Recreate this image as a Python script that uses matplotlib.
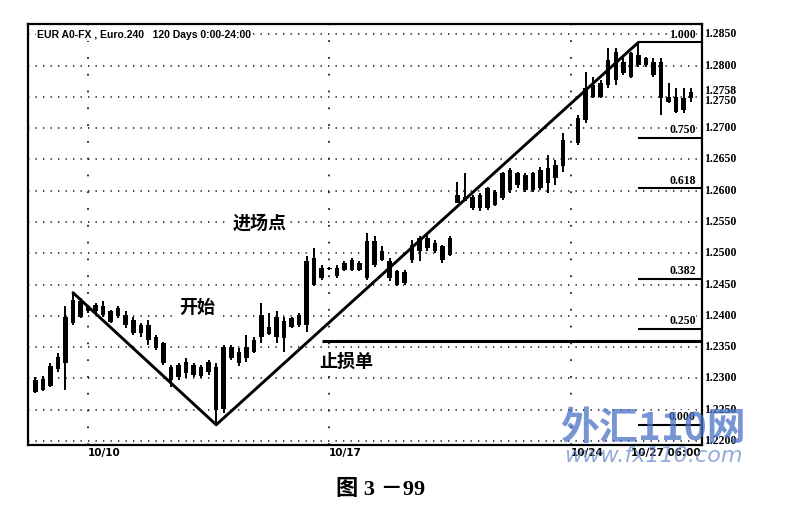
import numpy as np
import matplotlib.pyplot as plt
import matplotlib.transforms as mtransforms

# 4時間足データ (None = 欠けたバー)
opens = [1.2279, 1.2282, 1.2288, 1.2315, 1.2325, 1.2388, 1.2423, 1.2415, 1.2407, 1.2416,
         1.2407, 1.2400, 1.2401, 1.2393, 1.2385, 1.2385, 1.2366, 1.2357, 1.2319, 1.2303,
         1.2308, 1.2322, 1.2304, 1.2311, 1.2319, 1.2252, 1.2351, 1.2324, 1.2332, 1.2343,
         1.2367, 1.2383, 1.2367, 1.2392, 1.2383, 1.2385, 1.2385, 1.2492, 1.2460, 1.2475,
         1.2463, 1.2473, 1.2473, 1.2484, 1.2460, 1.2519, 1.2489, 1.2487, 1.2471, 1.2452,
         1.2489, 1.2503, 1.2524, 1.2503, 1.2511, 1.2497, 1.2580, 1.2590, 1.2590, 1.2572,
         1.2572, 1.2598, 1.2588, 1.2601, 1.2628, 1.2601, 1.2628, 1.2604, 1.2612, 1.2620,
         1.2639, None, 1.2676, 1.2713, 1.2769, 1.2750, 1.2769, 1.2777, 1.2806, 1.2782,
         1.2817, 1.2812, 1.2806, 1.2806, 1.2750, 1.2750, 1.2729, 1.2748]
highs = [1.2303, 1.2304, 1.2325, 1.2341, 1.2415, 1.2437, 1.2428, 1.2417, 1.2420, 1.2423,
         1.2409, 1.2415, 1.2407, 1.2399, 1.2388, 1.2393, 1.2369, 1.2359, 1.2322, 1.2324,
         1.2332, 1.2324, 1.2322, 1.2330, 1.2324, 1.2353, 1.2353, 1.2348, 1.2369, 1.2367,
         1.2420, 1.2404, 1.2407, 1.2399, 1.2399, 1.2404, 1.2496, 1.2508, 1.2481, 1.2478,
         1.2481, 1.2487, 1.2492, 1.2487, 1.2532, 1.2527, 1.2511, 1.2492, 1.2473, 1.2473,
         1.2521, 1.2527, 1.2529, 1.2521, 1.2513, 1.2527, 1.2614, 1.2628, 1.2593, 1.2596,
         1.2606, 1.2601, 1.2630, 1.2636, 1.2630, 1.2628, 1.2630, 1.2638, 1.2657, 1.2649,
         1.2692, None, 1.2721, 1.2790, 1.2782, 1.2777, 1.2828, 1.2828, 1.2812, 1.2822,
         1.2837, 1.2814, 1.2812, 1.2812, 1.2772, 1.2764, 1.2764, 1.2764]
lows = [1.2277, 1.2280, 1.2286, 1.2311, 1.2282, 1.2385, 1.2396, 1.2404, 1.2404, 1.2399,
        1.2388, 1.2396, 1.2380, 1.2369, 1.2367, 1.2353, 1.2346, 1.2322, 1.2287, 1.2298,
        1.2300, 1.2303, 1.2300, 1.2306, 1.2226, 1.2245, 1.2330, 1.2320, 1.2327, 1.2340,
        1.2356, 1.2369, 1.2356, 1.2343, 1.2380, 1.2383, 1.2375, 1.2447, 1.2457, 1.2473,
        1.2460, 1.2471, 1.2471, 1.2471, 1.2457, 1.2478, 1.2487, 1.2455, 1.2447, 1.2449,
        1.2484, 1.2487, 1.2503, 1.2500, 1.2484, 1.2495, 1.2580, 1.2583, 1.2569, 1.2567,
        1.2569, 1.2575, 1.2585, 1.2596, 1.2604, 1.2598, 1.2598, 1.2601, 1.2596, 1.2609,
        1.2630, None, 1.2673, 1.2708, 1.2748, 1.2748, 1.2764, 1.2769, 1.2785, 1.2780,
        1.2798, 1.2798, 1.2782, 1.2721, 1.2740, 1.2724, 1.2724, 1.2742]
closes = [1.2298, 1.2299, 1.2320, 1.2334, 1.2399, 1.2425, 1.2399, 1.2407, 1.2417, 1.2401,
          1.2391, 1.2412, 1.2385, 1.2373, 1.2373, 1.2361, 1.2349, 1.2325, 1.2298, 1.2322,
          1.2327, 1.2306, 1.2318, 1.2327, 1.2250, 1.2351, 1.2332, 1.2343, 1.2351, 1.2361,
          1.2401, 1.2371, 1.2399, 1.2365, 1.2396, 1.2401, 1.2488, 1.2449, 1.2476, 1.2477,
          1.2476, 1.2484, 1.2489, 1.2473, 1.2519, 1.2481, 1.2503, 1.2460, 1.2449, 1.2470,
          1.2513, 1.2524, 1.2508, 1.2516, 1.2489, 1.2524, 1.2593, 1.2583, 1.2572, 1.2593,
          1.2604, 1.2577, 1.2628, 1.2633, 1.2609, 1.2625, 1.2601, 1.2633, 1.2636, 1.2641,
          1.2681, None, 1.2716, 1.2764, 1.2750, 1.2772, 1.2809, 1.2822, 1.2788, 1.2820,
          1.2801, 1.2801, 1.2785, 1.2748, 1.2742, 1.2726, 1.2748, 1.2758]

# 日付グリッド
date_idx = [7, 39, 71]
date_labels = ['10/10', '10/17', '10/24']

# 価格目盛
price_ticks = [1.2850, 1.2800, 1.2750, 1.2700, 1.2650, 1.2600, 1.2550, 1.2500,
               1.2450, 1.2400, 1.2350, 1.2300, 1.2250, 1.2200]
last_price = 1.2758

# スイング (開始 -> 安値 -> 高値)
swing_idx = [5, 24, 80]
swing_price = [1.2437, 1.2226, 1.2837]

# フィボナッチ
fib_ratios = [1.000, 0.750, 0.618, 0.382, 0.250, 0.000]
fib_labels = ['1.000', '0.750', '0.618', '0.382', '0.250', '0.000']

# 止損単
stop_price = 1.2360
stop_start = 38

fig = plt.figure(figsize=(8.06, 5.19), dpi=100)
ax = fig.add_axes([0.0347, 0.1426, 0.8359, 0.8112])
ax.set_xlim(-0.97, 88.4)
ax.set_ylim(1.21937, 1.28664)
ax.set_xticks([])
ax.set_yticks([])
for s in ax.spines.values():
    s.set_linewidth(1.6)

# グリッド
for p in price_ticks:
    ax.axhline(p, color='#222222', lw=1.2, ls=(0, (0.8, 3.7)), zorder=1)
for d in date_idx:
    ax.axvline(d, color='#222222', lw=1.3, ls=(0, (1, 8.3)), zorder=1)

# ローソク足
for i, (o, h, l, c) in enumerate(zip(opens, highs, lows, closes)):
    if o is None:
        continue
    ax.vlines(i, l, h, color='black', lw=1.4, zorder=3)
    ax.bar(i, max(abs(c - o), 0.0002), bottom=min(o, c), width=0.6,
           color='black', zorder=3)

# トレンドライン
ax.plot(swing_idx, swing_price, color='black', lw=2.1, zorder=4,
        solid_capstyle='round')

# フィボナッチライン
lo, hi = swing_price[1], swing_price[2]
for r, lab in zip(fib_ratios, fib_labels):
    lvl = lo + r * (hi - lo)
    ax.hlines(lvl, swing_idx[2], 88.4, color='black', lw=1.5, zorder=4)
    ax.text(87.6, lvl + 0.0003, lab, ha='right', va='bottom', fontsize=8.5,
            fontweight='bold', family='Liberation Serif', zorder=5,
            bbox=dict(facecolor='white', edgecolor='none', pad=0.5))

# 止損ライン
ax.hlines(stop_price, stop_start, 88.4, color='black', lw=2.2, zorder=4)

# 価格ラベル (右側)
ytrans = mtransforms.blended_transform_factory(ax.transAxes, ax.transData)
for p in price_ticks:
    shift = -0.0007 if p == 1.2750 else 0
    ax.text(1.004, p + shift, '%.4f' % p, transform=ytrans,
            ha='left', va='center', fontsize=8.5, fontweight='bold',
            family='Liberation Serif', clip_on=False)
ax.text(1.004, last_price + 0.0001, '%.4f' % last_price, transform=ytrans,
        ha='left', va='center', fontsize=8.5, fontweight='bold',
        family='Liberation Serif', clip_on=False)

# 日付ラベル
xtrans = mtransforms.blended_transform_factory(ax.transData, ax.transAxes)
for d, lab in zip(date_idx, date_labels):
    ax.text(d, -0.008, lab, transform=xtrans, ha='left', va='top',
            fontsize=7.5, fontweight='bold', clip_on=False)
ax.text(88.2, -0.008, '10/27 06:00', transform=xtrans, ha='right', va='top',
        fontsize=7.5, fontweight='bold', clip_on=False)

# タイトル
ax.text(0.014, 0.975, 'EUR A0-FX , Euro.240   120 Days 0:00-24:00',
        transform=ax.transAxes, ha='left', va='center', fontsize=7.5,
        fontweight='bold', family=['Liberation Sans Narrow', 'Liberation Sans'],
        zorder=5, bbox=dict(facecolor='white', edgecolor='none', pad=1))

# 注記
cjk = ['Noto Sans CJK SC', 'DejaVu Sans']
box = dict(facecolor='white', edgecolor='none', pad=2)
ax.text(29.8, 1.2549, '进场点', ha='center', va='center', fontsize=13,
        fontweight='bold', family=cjk, zorder=5, bbox=box)
ax.text(21.5, 1.2413, '开始', ha='center', va='center', fontsize=13,
        fontweight='bold', family=cjk, zorder=5, bbox=box)
ax.text(41.3, 1.2328, '止损单', ha='center', va='center', fontsize=13,
        fontweight='bold', family=cjk, zorder=5, bbox=box)

# 透かし
fig.text(0.81, 0.175, '外汇110网', ha='center', va='center', fontsize=28,
         fontweight='bold', style='italic', family=cjk, color='#4a72c4',
         alpha=0.75, zorder=10)
fig.text(0.81, 0.122, 'www.fx110.com', ha='center', va='center', fontsize=16,
         style='italic', family='DejaVu Sans', color='#6f8fd0', alpha=0.75,
         zorder=10)

# 図番号
fig.text(0.472, 0.056, '图 3 －99', ha='center', va='center', fontsize=16,
         fontweight='bold', family=['Liberation Serif', 'Noto Sans CJK SC'])

fig.savefig('out.png', dpi=100)
